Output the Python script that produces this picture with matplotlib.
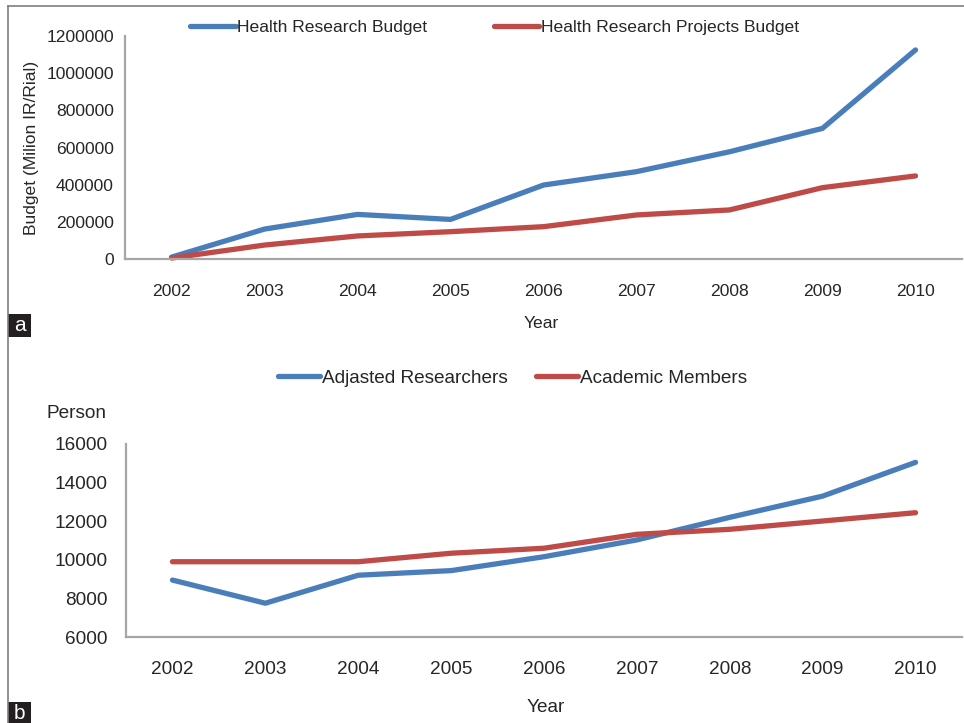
import matplotlib.pyplot as plt
from matplotlib.lines import Line2D
from matplotlib.patches import Rectangle

# ==========================================
# DATA
# ==========================================

years = ["2002", "2003", "2004", "2005", "2006", "2007", "2008", "2009", "2010"]

health_budget = [10000, 161000, 240000, 213000, 398000, 470000, 577000, 703000, 1125000]
projects_budget = [5000, 75000, 124000, 147000, 174000, 237000, 264000, 384000, 447000]

adjusted_researchers = [8950, 7750, 9200, 9440, 10160, 11030, 12200, 13300, 15050]
academic_members = [9900, 9900, 9900, 10340, 10600, 11320, 11580, 12010, 12440]

budget_ticks = [0, 200000, 400000, 600000, 800000, 1000000, 1200000]
person_ticks = [6000, 8000, 10000, 12000, 14000, 16000]

# ==========================================
# STYLE
# ==========================================

BLUE = "#4a7ebb"
RED = "#be4b48"
TEXT = "#262626"
SPINE = "#a6a6a6"

FS_A = 12.6
FS_B = 13.7

plt.rcParams["font.family"] = ["Liberation Sans", "DejaVu Sans"]

W, H = 964, 723
fig = plt.figure(figsize=(W / 100, H / 100), dpi=100)


def frac_box(x0, y0, x1, y1):
    # pixel box (top-left origin) -> figure fraction rect
    return [x0 / W, 1 - y1 / H, (x1 - x0) / W, (y1 - y0) / H]


def style_axes(ax, ticks, pad_x, pad_y, fs):
    ax.set_xlim(-0.5, len(years) - 0.5)
    ax.set_xticks(range(len(years)))
    ax.set_xticklabels(years)
    ax.set_yticks(ticks)
    ax.set_yticklabels([str(t) for t in ticks])
    ax.set_ylim(ticks[0], ticks[-1])
    for side in ["top", "right"]:
        ax.spines[side].set_visible(False)
    for side in ["left", "bottom"]:
        ax.spines[side].set_color(SPINE)
        ax.spines[side].set_linewidth(1.6)
    ax.tick_params(axis="both", length=0, labelsize=fs, colors=TEXT)
    ax.tick_params(axis="y", pad=pad_y)
    ax.tick_params(axis="x", pad=pad_x)


# ==========================================
# PANEL A
# ==========================================

ax1 = fig.add_axes(frac_box(125, 36, 962, 259))

ax1.plot(range(len(years)), health_budget, color=BLUE, lw=3.8,
         solid_capstyle="round", solid_joinstyle="round", clip_on=False)
ax1.plot(range(len(years)), projects_budget, color=RED, lw=3.8,
         solid_capstyle="round", solid_joinstyle="round", clip_on=False)

style_axes(ax1, budget_ticks, 18, 8, FS_A)

ax1.set_ylabel("Budget (Milion IR/Rial)", fontsize=FS_A, color=TEXT, labelpad=5)
fig.text(541 / W, 1 - 323 / H, "Year", ha="center", va="center",
         fontsize=FS_A, color=TEXT)

handles_a = [
    Line2D([], [], color=BLUE, lw=3.8, solid_capstyle="round"),
    Line2D([], [], color=RED, lw=3.8, solid_capstyle="round"),
]
fig.legend(handles_a, ["Health Research Budget", "Health Research Projects Budget"],
           loc="center left", bbox_to_anchor=(190 / W, 1 - 27 / H), ncol=2,
           frameon=False, fontsize=FS_A, handlelength=2.6, handletextpad=0.1,
           columnspacing=3.8, borderaxespad=0, borderpad=0,
           labelcolor=TEXT)

# ==========================================
# PANEL B
# ==========================================

ax2 = fig.add_axes(frac_box(126, 444, 962, 637))

ax2.plot(range(len(years)), adjusted_researchers, color=BLUE, lw=3.8,
         solid_capstyle="round", solid_joinstyle="round", clip_on=False)
ax2.plot(range(len(years)), academic_members, color=RED, lw=3.8,
         solid_capstyle="round", solid_joinstyle="round", clip_on=False)

style_axes(ax2, person_ticks, 17, 13, FS_B)

fig.text(107 / W, 1 - 413 / H, "Person", ha="right", va="center",
         fontsize=FS_B, color=TEXT)
fig.text(546 / W, 1 - 708 / H, "Year", ha="center", va="center",
         fontsize=FS_B, color=TEXT)

handles_b = [
    Line2D([], [], color=BLUE, lw=3.8, solid_capstyle="round"),
    Line2D([], [], color=RED, lw=3.8, solid_capstyle="round"),
]
fig.legend(handles_b, ["Adjasted Researchers", "Academic Members"],
           loc="center left", bbox_to_anchor=(278 / W, 1 - 378 / H), ncol=2,
           frameon=False, fontsize=FS_B, handlelength=2.2, handletextpad=0.1,
           columnspacing=1.5, borderaxespad=0, borderpad=0,
           labelcolor=TEXT)

# ==========================================
# FRAME AND PANEL LABELS
# ==========================================

fig.add_artist(Line2D([8 / W, 8 / W], [0, 1 - 6 / H], color="#7f7f7f",
                      lw=1.2, transform=fig.transFigure))
fig.add_artist(Line2D([8 / W, 1], [1 - 6 / H, 1 - 6 / H], color="#7f7f7f",
                      lw=1.2, transform=fig.transFigure))

for label, (y0, y1) in [("a", (314, 337)), ("b", (702, 725))]:
    x0, x1 = 8, 31
    fig.add_artist(Rectangle((x0 / W, 1 - y1 / H), (x1 - x0) / W, (y1 - y0) / H,
                             transform=fig.transFigure, color="#231f20", lw=0))
    fig.text((x0 + x1) / 2 / W, 1 - (y0 + y1) / 2 / H, label, color="white",
             ha="center", va="center", fontsize=15)

fig.savefig("out.png", dpi=100, facecolor="white")
